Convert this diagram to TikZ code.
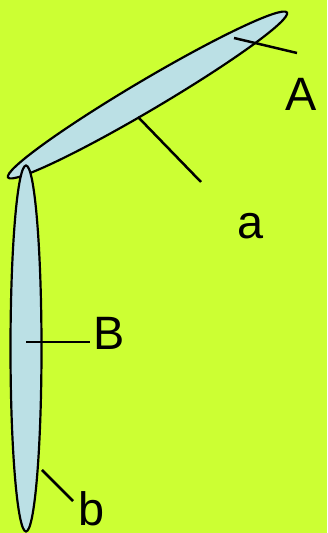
\documentclass[tikz,border=0pt]{standalone}
\usepackage{fontspec}
\setmainfont{Liberation Sans}
\usetikzlibrary{shapes.geometric}
\definecolor{bg}{RGB}{204,255,51}
\definecolor{lobe}{RGB}{187,224,229}
\tikzset{
  lobebox/.style={draw=black, fill=lobe, ellipse, line width=2.2pt, inner sep=0pt},
  leader/.style={draw=black, line width=2.5pt},
  lbl/.style={anchor=base, inner sep=0pt, font=\fontsize{47}{50}\selectfont}
}
\begin{document}
\begin{tikzpicture}[x=1bp,y=1bp]
\fill[bg] (0,0) rectangle (327,533);
\useasboundingbox (0,0) rectangle (327,533);
\node[lobebox, minimum width=324bp, minimum height=30bp, rotate=30.6] (e1) at (147.5,438) {};
\node[lobebox, minimum width=31bp, minimum height=366bp] (e2) at (26,184.5) {};
\coordinate (pA1) at (234,495);
\coordinate (pA2) at (297,480);
\coordinate (pa1) at (138,416);
\coordinate (pa2) at (201,351);
\coordinate (pB1) at (26,191);
\coordinate (pB2) at (90,191);
\coordinate (pb1) at (42,63);
\coordinate (pb2) at (73,32);
\draw[leader] (pA1) -- (pA2);
\draw[leader] (pa1) -- (pa2);
\draw[leader] (pB1) -- (pB2);
\draw[leader] (pb1) -- (pb2);
\node[lbl] (A) at (301.5,422) {A};
\node[lbl] (a) at (251,294) {a};
\node[lbl] (B) at (109.5,183) {B};
\node[lbl] (b) at (92,7.5) {b};
\end{tikzpicture}
\end{document}
